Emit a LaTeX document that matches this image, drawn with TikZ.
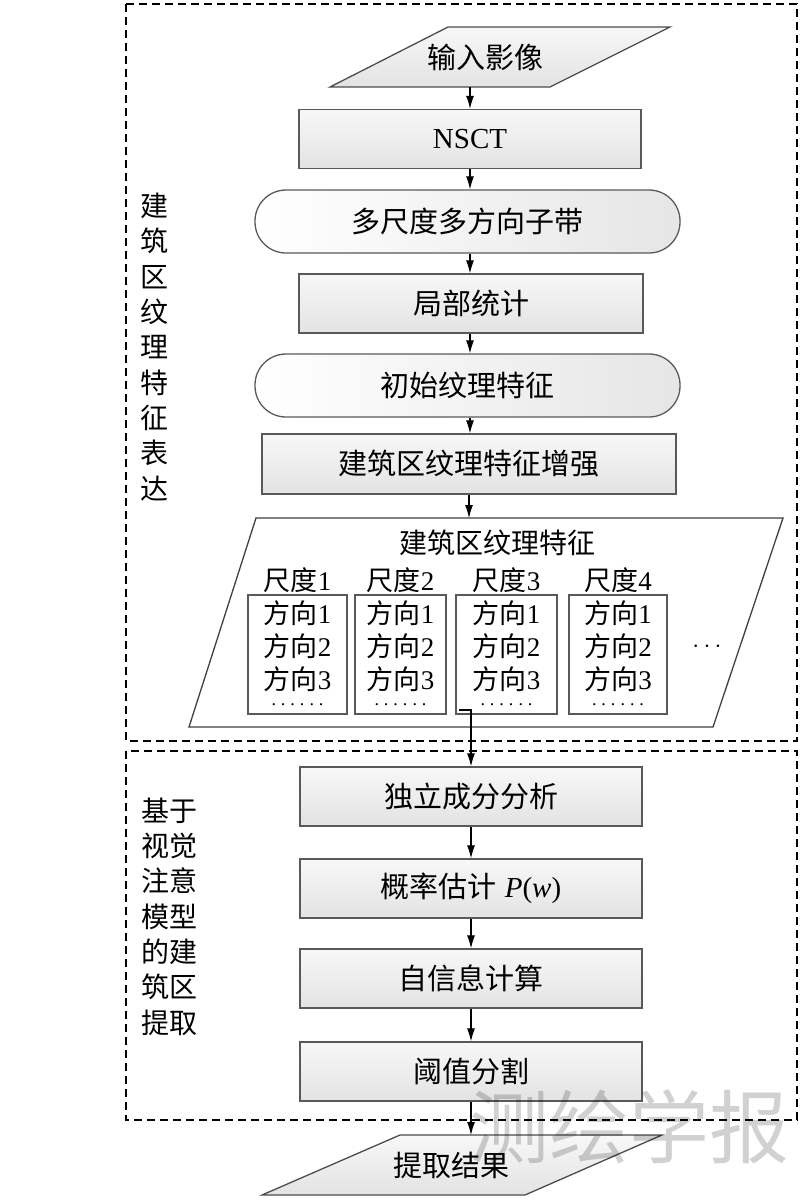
\documentclass[tikz,border=0pt]{standalone}
\usepackage{fontspec}
\setmainfont{Liberation Serif}
\newfontfamily\cjk{Noto Sans CJK SC}
\usetikzlibrary{arrows.meta}
\begin{document}
\begin{tikzpicture}[x=1pt,y=-1pt,
  mainfs/.style={font=\fontsize{29}{34}\selectfont\cjk},
  box/.style={draw=black!65, line width=1.3pt, top color=black!3, bottom color=black!11,
    minimum width=342pt, minimum height=59pt, inner sep=0pt, mainfs},
  rbox/.style={draw=black!65, line width=1.3pt, rounded corners=31pt, left color=white,
    middle color=black!8, right color=black!10, minimum width=425pt, minimum height=63pt,
    inner sep=0pt, mainfs},
  para/.style={draw=black!70, line width=1.3pt, top color=black!3, bottom color=black!11},
  bigpara/.style={draw=black!75, line width=1.3pt, fill=white},
  sbox/.style={draw=black!65, line width=1.3pt, fill=white, inner sep=0pt},
  stxt/.style={inner sep=0pt, font=\fontsize{27}{30}\selectfont},
  dots/.style={inner sep=0pt, font=\fontsize{18}{18}\selectfont},
  lbl/.style={inner sep=0pt, align=center, font=\fontsize{28}{35.3}\selectfont\cjk},
  arr/.style={-{Latex[length=13pt,width=8pt]}, line width=1.1pt},
  dbox/.style={line width=1.2pt, dash pattern=on 8pt off 5pt},
  wmark/.style={inner sep=0pt, text=black, text opacity=0.18, font=\fontsize{80}{80}\selectfont\cjk}
]
\useasboundingbox (0,0) rectangle (800,1202);

% dashed frames
\draw[dbox] (126,4) rectangle (797,741);
\draw[dbox] (126,751) rectangle (797,1120);

% side labels
\node[lbl] (lab1) at (154,347) {建\\筑\\区\\纹\\理\\特\\征\\表\\达};
\node[lbl] (lab2) at (169,916.5) {基于\\视觉\\注意\\模型\\的建\\筑区\\提取};

% input parallelogram
\path[para] (448,27) -- (670,27) -- (550,87) -- (330,87) -- cycle;
\node[inner sep=0pt, minimum height=60pt, mainfs] (in) at (485,57) {输入影像};

\node[box] (nsct) at (470,139) {\rmfamily NSCT};
\node[rbox] (band) at (467.5,221.5) {多尺度多方向子带};
\node[box, minimum width=344pt] (loc) at (471,303.5) {局部统计};
\node[rbox] (init) at (467.5,385.5) {初始纹理特征};
\node[box, minimum width=414pt, minimum height=60pt] (enh) at (469,464) {建筑区纹理特征增强};

% big parallelogram
\path[bigpara] (256,518) -- (783,518) -- (713,727) -- (189,727) -- cycle;
\coordinate (bigtop) at (469,518);
\node[stxt, font=\fontsize{28}{32}\selectfont\cjk] (feat) at (497,543) {建筑区纹理特征};
\foreach \n/\cx/\w in {1/297.5/99pt, 2/400.5/91pt, 3/506.5/101pt, 4/618/98pt} {
  \node[sbox, minimum width=\w, minimum height=119pt] (b\n) at (\cx,654.5) {};
  \node[stxt] (sc\n) at (\cx,580) {{\cjk 尺度}\n};
  \node[stxt] (d1\n) at (\cx,613) {{\cjk 方向}1};
  \node[stxt] (d2\n) at (\cx,646) {{\cjk 方向}2};
  \node[stxt] (d3\n) at (\cx,679) {{\cjk 方向}3};
  \node[dots] (dd\n) at (\cx,705) {.\kern5pt.\kern5pt.\kern5pt.\kern5pt.\kern5pt.};
}
\node[inner sep=0pt, font=\fontsize{24}{24}\selectfont] (more) at (707,647) {$\cdots$};
\coordinate (s3) at (459,710);

% lower part
\node[box] (ica) at (471,796.5) {独立成分分析};
\node[box] (prob) at (471,888.5) {概率估计\hspace{8pt}\rmfamily\textit{P}(\textit{w})};
\node[box] (info) at (471,978.5) {自信息计算};
\node[box] (thr) at (471,1071.5) {阈值分割};

% output parallelogram
\path[para] (400,1135) -- (662,1135) -- (525,1195) -- (262,1195) -- cycle;
\node[inner sep=0pt, minimum height=60pt, mainfs] (out) at (451,1165) {提取结果};
\coordinate (outtop) at (471,1135);

% connectors
\draw[arr] (in.south -| nsct.north) -- (nsct.north);
\draw[arr] (nsct.south) -- (nsct.south |- band.north);
\draw[arr] (band.south -| nsct.south) -- (nsct.south |- loc.north);
\draw[arr] (loc.south -| nsct.south) -- (nsct.south |- init.north);
\draw[arr] (init.south -| nsct.south) -- (nsct.south |- enh.north);
\draw[arr] (enh.south) -- (bigtop);
\draw[arr] (s3) -| (ica.north);
\draw[arr] (ica.south) -- (prob.north);
\draw[arr] (prob.south) -- (info.north);
\draw[arr] (info.south) -- (thr.north);
\draw[arr] (thr.south) -- (outtop);

% watermark
\node[wmark] (wm) at (629,1127) {测绘学报};
\end{tikzpicture}
\end{document}
